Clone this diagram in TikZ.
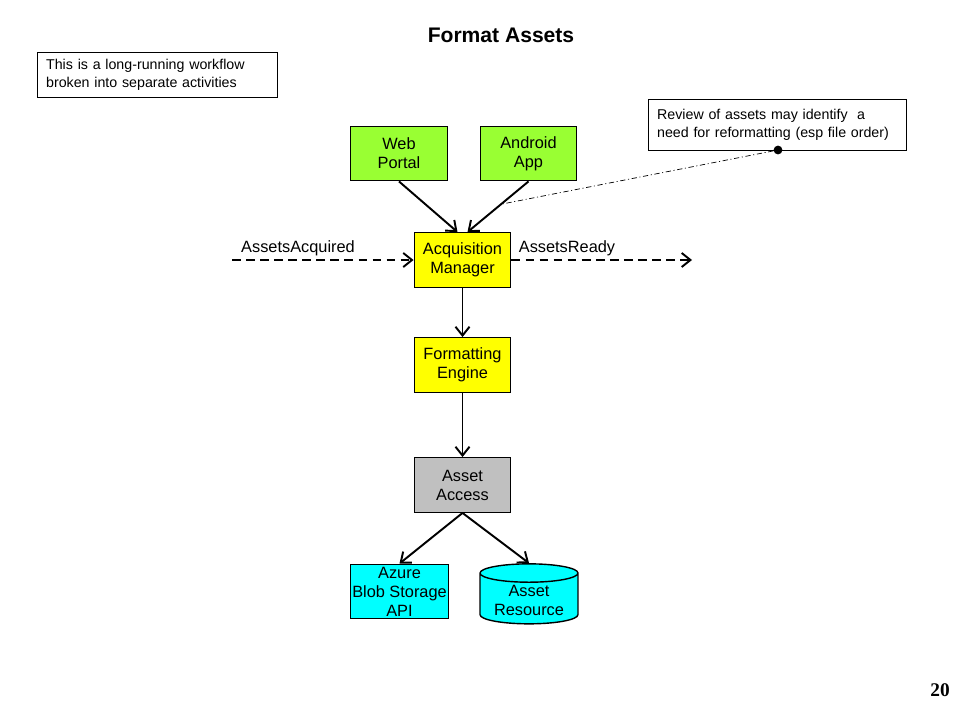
\documentclass[tikz,border=0pt]{standalone}
\usepackage{fontspec}
\setmainfont{Liberation Sans}
\newfontfamily\pagefont{Liberation Serif}
\usetikzlibrary{arrows.meta,shapes.geometric,calc}

\definecolor{portalgreen}{HTML}{99FF33}
\definecolor{mgryellow}{HTML}{FFFF00}
\definecolor{accessgray}{HTML}{C0C0C0}
\definecolor{storecyan}{HTML}{00FFFF}

\begin{document}
\begin{tikzpicture}[x=0.02cm,y=-0.02cm,
		font=\fontsize{9.3}{10.8}\selectfont,
		block/.style={draw,thick,minimum width=1.93cm,minimum height=1.09cm,align=center,inner sep=1pt},
		note/.style={draw,thin,align=left,font=\fontsize{8.1}{10.3}\selectfont,anchor=north west,inner xsep=5pt,inner ysep=4pt},
		flow/.style={line width=1.1pt,-{Straight Barb[length=5pt,width=8pt]}},
		event/.style={flow,dash pattern=on 5pt off 3pt}]
		\useasboundingbox (0,0) rectangle (960,720);
		% title and page number
		\node[font=\fontsize{12}{14}\selectfont\bfseries] (title) at (501,35) {Format Assets};
		\node[font=\fontsize{11}{13}\selectfont\pagefont\bfseries] (page) at (940,690) {20};
		% notes
		\node[note,text width=4.45cm,minimum height=0.9cm] (wfnote) at (37,52) {This is a long-running workflow\\broken into separate activities};
		\node[note,text width=4.8cm,minimum height=1.02cm] (revnote) at (648,99) {Review of assets may identify \ a\\need for reformatting (esp file order)};
		% activities
		\node[block,fill=portalgreen] (web) at (399,153.5) {Web\\Portal};
		\node[block,fill=portalgreen] (android) at (528.5,153.5) {Android\\App};
		\node[block,fill=mgryellow] (acq) at (462.5,260) {Acquisition\\Manager};
		\node[block,fill=mgryellow] (fmt) at (462.5,365) {Formatting\\Engine};
		\node[block,fill=accessgray] (access) at (462.5,485) {Asset\\Access};
		\node[block,fill=storecyan] (blob) at (399.5,591.5) {Azure\\Blob Storage\\API};
		\node[draw,thick,fill=storecyan,cylinder,shape border rotate=90,aspect=0.25,
			minimum width=1.96cm,minimum height=1.2cm,align=center,inner sep=1pt] (res) at (529,600) {Asset\\Resource};
		% events
		\coordinate (inev) at (232,260);
		\coordinate (outev) at (692,260);
		\node (acqlbl) at (298,248) {AssetsAcquired};
		\node (readylbl) at (567,248) {AssetsReady};
		% connectors
		\draw[flow] (web.south) -- ([xshift=-0.1cm]acq.north);
		\draw[flow] (android.south) -- ([xshift=0.1cm]acq.north) coordinate[pos=0.45] (tap);
		\draw[event] (inev) -- (acq.west);
		\draw[event] (acq.east) -- (outev);
		\draw[flow] (acq) -- (fmt);
		\draw[flow] (fmt) -- (access);
		\draw[flow] (access.south) -- (blob.north);
		\draw[flow] (access.south) -- (res.north);
		% callout
		\node[circle,fill,inner sep=0pt,minimum size=5pt] (dot) at (778,150) {};
		\draw[thin,dash pattern=on 3pt off 1.5pt on 0.6pt off 1.5pt] (dot) -- (tap);
	\end{tikzpicture}
\end{document}
